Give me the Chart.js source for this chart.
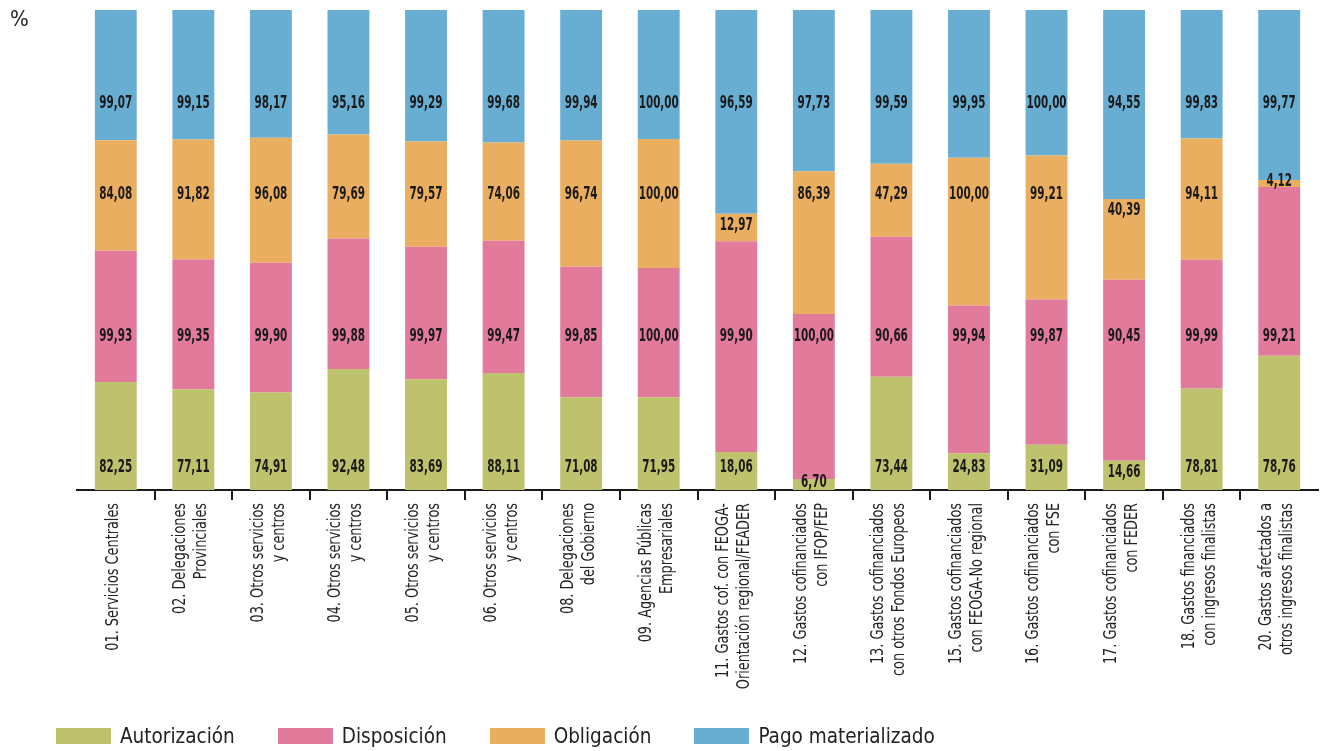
<!DOCTYPE html>
<html>
<head>
<meta charset="utf-8">
<script src="https://cdn.jsdelivr.net/npm/chart.js@4.4.1/dist/chart.umd.min.js"></script>
<style>
    body { margin: 0; background: #fff; }
    #wrap { position: relative; width: 1320px; height: 751px; }
    #pct { position: absolute; left: 10px; top: 6px; font: 22px "DejaVu Sans Condensed", sans-serif; color: #222; }
    #legend { position: absolute; left: 56px; top: 724px; display: flex; gap: 43px; font: 20.5px "DejaVu Sans Condensed", sans-serif; color: #222; }
    #legend .item { display: flex; align-items: center; gap: 9px; }
    #legend .box { width: 55px; height: 16px; }
</style>
</head>
<body>
<div id="wrap">
    <canvas id="chart" width="1320" height="751"></canvas>
    <div id="pct">%</div>
    <div id="legend"></div>
</div>
<script>
const categories = [
    ["01. Servicios Centrales"],
    ["02. Delegaciones", "Provinciales"],
    ["03. Otros servicios", "y centros"],
    ["04. Otros servicios", "y centros"],
    ["05. Otros servicios", "y centros"],
    ["06. Otros servicios", "y centros"],
    ["08. Delegaciones", "del Gobierno"],
    ["09. Agencias Públicas", "Empresariales"],
    ["11. Gastos cof. con FEOGA-", "Orientación regional/FEADER"],
    ["12. Gastos cofinanciados", "con IFOP/FEP"],
    ["13. Gastos cofinanciados", "con otros Fondos Europeos"],
    ["15. Gastos cofinanciados", "con FEOGA-No regional"],
    ["16. Gastos cofinanciados", "con FSE"],
    ["17. Gastos cofinanciados", "con FEDER"],
    ["18. Gastos financiados", "con ingresos finalistas"],
    ["20. Gastos afectados a", "otros ingresos finalistas"]
];

const seriesNames = ["Autorización", "Disposición", "Obligación", "Pago materializado"];

const autorizacion = [82.25, 77.11, 74.91, 92.48, 83.69, 88.11, 71.08, 71.95, 18.06, 6.70, 73.44, 24.83, 31.09, 14.66, 78.81, 78.76];
const disposicion  = [99.93, 99.35, 99.90, 99.88, 99.97, 99.47, 99.85, 100.00, 99.90, 100.00, 90.66, 99.94, 99.87, 90.45, 99.99, 99.21];
const obligacion   = [84.08, 91.82, 96.08, 79.69, 79.57, 74.06, 96.74, 100.00, 12.97, 86.39, 47.29, 100.00, 99.21, 40.39, 94.11, 4.12];
const pago         = [99.07, 99.15, 98.17, 95.16, 99.29, 99.68, 99.94, 100.00, 96.59, 97.73, 99.59, 99.95, 100.00, 94.55, 99.83, 99.77];

const FONT = "'DejaVu Sans Condensed', sans-serif";
const colors = ["#bec26d", "#e27b9b", "#eaae60", "#68aed3"];
// preferred label height (in % of the bar) for each series
const labelAnchor = [4.6, 31.9, 61.5, 80.6];

const raw = [autorizacion, disposicion, obligacion, pago];

// each bar is stacked to 100%
let totals = categories.map((c, i) => raw.reduce((s, arr) => s + arr[i], 0));

let datasets = raw.map((arr, k) => ({
    label: seriesNames[k],
    data: arr.map((v, i) => v / totals[i] * 100),
    rawValues: arr,
    backgroundColor: colors[k],
    barPercentage: 0.54,
    categoryPercentage: 1
}));

// value labels inside the segments (narrow DIN-like look: squeeze horizontally)
const valueLabels = {
    id: "valueLabels",
    afterDatasetsDraw(chart) {
        let ctx = chart.ctx;
        let yScale = chart.scales.y;
        ctx.save();
        ctx.font = "bold 17px " + FONT;
        ctx.fillStyle = "#1a1a1a";
        ctx.textAlign = "center";
        ctx.textBaseline = "middle";
        chart.data.datasets.forEach((ds, k) => {
            let meta = chart.getDatasetMeta(k);
            let pref = yScale.getPixelForValue(labelAnchor[k]);
            meta.data.forEach((bar, i) => {
                let top = Math.min(bar.y, bar.base);
                let bottom = Math.max(bar.y, bar.base);
                let half = 12;
                let y;
                if (bottom - top < 2 * half) {
                    y = (top + bottom) / 2 - 2;
                } else {
                    y = Math.min(Math.max(pref, top + half), bottom - half);
                }
                let txt = ds.rawValues[i].toFixed(2).replace(".", ",");
                ctx.save();
                ctx.translate(bar.x, y);
                ctx.scale(0.68, 1);
                ctx.fillText(txt, 0, 0);
                ctx.restore();
            });
        });
        ctx.restore();
    }
};

// category labels, rotated and condensed
const categoryLabels = {
    id: "categoryLabels",
    afterDraw(chart) {
        let ctx = chart.ctx;
        let xScale = chart.scales.x;
        let top = chart.chartArea.bottom + 13;
        let lineGap = 21;
        ctx.save();
        ctx.font = "17px " + FONT;
        ctx.fillStyle = "#222";
        ctx.textAlign = "right";
        ctx.textBaseline = "middle";
        categories.forEach((lines, i) => {
            let cx = xScale.getPixelForTick(i);
            let first = cx - (lines.length - 1) * lineGap / 2 - 2;
            lines.forEach((line, j) => {
                ctx.save();
                ctx.translate(first + j * lineGap, top);
                ctx.rotate(-Math.PI / 2);
                ctx.scale(0.84, 1);
                ctx.fillText(line, 0, 0);
                ctx.restore();
            });
        });
        ctx.restore();
    }
};

let ctx = document.getElementById("chart").getContext("2d");

new Chart(ctx, {
    type: "bar",
    data: { labels: categories.map(l => l.join(" ")), datasets: datasets },
    options: {
        responsive: false,
        animation: false,
        layout: { padding: { top: 10, left: 77, right: 2, bottom: 0 } },
        plugins: {
            legend: { display: false },
            tooltip: { enabled: false }
        },
        scales: {
            x: {
                stacked: true,
                offset: true,
                afterFit: function (scale) { scale.height = 261; },
                border: { color: "#1a1a1a", width: 2 },
                grid: {
                    offset: true,
                    drawOnChartArea: false,
                    tickLength: 10,
                    lineWidth: 2,
                    color: function (c) {
                        return (c.type !== "tick" || c.index === 0) ? "rgba(0,0,0,0)" : "#1a1a1a";
                    }
                },
                ticks: { display: false }
            },
            y: {
                stacked: true,
                display: false,
                min: 0,
                max: 100
            }
        }
    },
    plugins: [valueLabels, categoryLabels]
});

// legend
let legend = document.getElementById("legend");
seriesNames.forEach((name, k) => {
    let item = document.createElement("div");
    item.className = "item";
    let box = document.createElement("span");
    box.className = "box";
    box.style.background = colors[k];
    let txt = document.createElement("span");
    txt.textContent = name;
    item.appendChild(box);
    item.appendChild(txt);
    legend.appendChild(item);
});
</script>
</body>
</html>
